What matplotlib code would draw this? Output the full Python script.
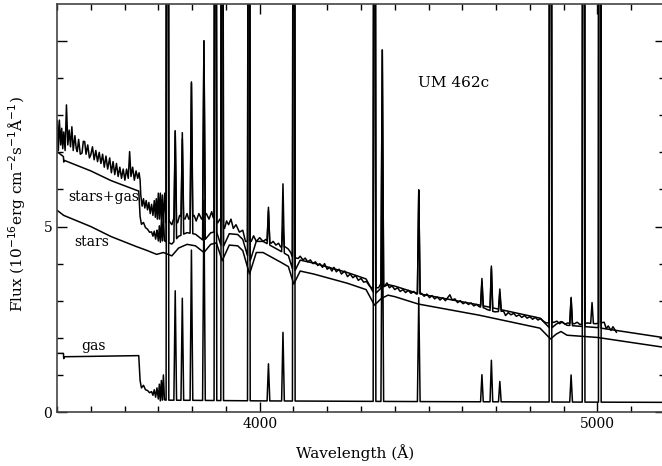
"""
UM 462c spectrum: observed + stars / gas / stars+gas models
"""
import numpy as np
import matplotlib.pyplot as plt

# %% data
# stellar model continuum (with Balmer absorption dips)
stars_wave = [3400, 3420, 3500, 3560, 3635, 3665, 3695, 3715, 3740, 3760, 3785, 3810, 3835, 3855,
              3872, 3889, 3910, 3935, 3950, 3970, 3990, 4010, 4060, 4085, 4101, 4120, 4160, 4260,
              4315, 4340, 4360, 4380, 4400, 4470, 4650, 4830, 4845, 4861, 4878, 4892, 4910, 5000, 5200]
stars_flux = [5.44, 5.30, 5.00, 4.73, 4.46, 4.36, 4.25, 4.30, 4.21, 4.42, 4.52, 4.48, 4.30, 4.52,
              4.56, 4.08, 4.50, 4.48, 4.35, 3.72, 4.30, 4.30, 4.05, 3.92, 3.45, 3.80, 3.72, 3.47,
              3.30, 2.88, 3.06, 3.15, 3.11, 2.91, 2.61, 2.26, 2.12, 1.97, 2.10, 2.17, 2.07, 2.01, 1.74]

# nebular (gas) continuum, Balmer jump at 3646
gas_wave = [3400, 3419, 3420, 3422, 3500, 3642, 3646, 3650, 3656, 3662, 3668, 3674, 3680, 3684,
            3688, 3692, 3696, 3700, 3703, 3706, 3709, 3712, 3715, 3718, 3722, 4000, 4500, 5200]
gas_flux = [1.58, 1.58, 1.44, 1.49, 1.50, 1.52, 0.85, 0.65, 0.72, 0.60, 0.58, 0.52, 0.55, 0.45,
            0.60, 0.40, 0.65, 0.35, 0.75, 0.30, 0.85, 0.32, 1.00, 0.33, 0.32, 0.30, 0.28, 0.26]

# gas emission lines: wavelength, height above the gas continuum
line_wave = [3727, 3750, 3771, 3798, 3835, 3869, 3889, 3968, 4026, 4069, 4101, 4340, 4363,
             4471, 4658, 4686, 4711, 4861, 4922, 4959, 5007]
line_amp = [40, 2.95, 2.75, 4.05, 5.4, 30, 30, 30, 1.0, 1.85, 30, 30, 6.4,
            2.8, 0.73, 1.12, 0.55, 50, 0.73, 50, 80]

# observed spectrum (continuum part)
obs_wave = [3398, 3401, 3404, 3407, 3411, 3414, 3417, 3420, 3424, 3428, 3432, 3436, 3440, 3444,
            3448, 3453, 3457, 3460, 3464, 3469, 3474, 3478, 3482, 3486, 3491, 3496, 3500, 3505,
            3510, 3515, 3520, 3525, 3530, 3535, 3540, 3545, 3550, 3556, 3561, 3566, 3571, 3576,
            3581, 3586, 3591, 3596, 3601, 3606, 3611, 3615, 3619, 3624, 3629, 3634, 3639, 3643,
            3646,
            3648, 3652, 3656, 3660, 3664, 3668, 3672, 3676, 3680, 3684,
            3688, 3691, 3694, 3697, 3700, 3703, 3706, 3709, 3712, 3715, 3719, 3723, 3732, 3740,
            3745, 3757, 3763, 3779, 3785, 3790, 3806, 3812, 3820, 3828, 3842, 3850, 3858, 3862,
            3876, 3882, 3896, 3902, 3908, 3915, 3922, 3930, 3940, 3950, 3958, 3975, 3982, 3990,
            4000, 4010, 4018, 4034, 4040, 4048, 4056, 4062, 4076, 4084, 4092, 4096, 4108, 4114,
            4120, 4128, 4135, 4142, 4150, 4158, 4165, 4172, 4178, 4186, 4192, 4200, 4207, 4214,
            4220, 4227, 4235, 4242, 4252, 4260, 4268, 4276, 4284, 4292, 4300, 4308, 4316, 4325,
            4331, 4352, 4358, 4370, 4377, 4384, 4392, 4400, 4408, 4416, 4424, 4432, 4440, 4448,
            4456, 4464, 4479, 4487, 4495, 4503, 4510, 4518, 4526, 4534, 4542, 4550, 4558, 4563,
            4570, 4578, 4586, 4594, 4602, 4610, 4618, 4626, 4634, 4642, 4650, 4666, 4674, 4696,
            4722, 4728, 4736, 4744, 4752, 4760, 4768, 4776, 4784, 4792, 4800, 4808, 4816, 4824,
            4832, 4840, 4848, 4872, 4880, 4888, 4896, 4904, 4912, 4932, 4940, 4948, 4970, 4995,
            5020, 5026, 5032, 5040, 5046, 5056]
obs_flux = [7.00, 7.85, 7.05, 7.87, 7.20, 7.65, 7.10, 7.55, 7.05, 8.28, 7.20, 7.60, 7.15, 7.69,
            7.05, 7.45, 7.10, 7.02, 7.35, 6.95, 6.98, 7.30, 7.29, 6.95, 7.20, 6.85, 6.93, 7.15,
            6.80, 7.05, 6.75, 7.00, 6.70, 6.95, 6.60, 6.90, 6.55, 6.85, 6.45, 6.75, 6.40, 6.70,
            6.35, 6.60, 6.30, 6.55, 6.25, 6.55, 6.30, 7.02, 6.35, 6.60, 6.25, 6.50, 6.30, 6.45,
            6.25,
            5.85, 5.55, 5.75, 5.50, 5.70, 5.45, 5.65, 5.35, 5.60, 5.30,
            5.70, 5.25, 5.75, 5.20, 5.90, 5.20, 5.90, 5.15, 5.85, 5.10, 5.90, 5.10, 5.15, 5.05,
            5.20, 5.10, 5.30, 5.20, 5.35, 5.20, 5.30, 5.15, 5.35, 5.20, 5.35, 5.20, 5.40, 5.25,
            5.10, 5.20, 4.95, 5.15, 5.05, 5.20, 4.95, 5.05, 4.85, 4.90, 4.60, 4.60, 4.75, 4.60,
            4.70, 4.60, 4.65, 4.55, 4.60, 4.50, 4.55, 4.45, 4.45, 4.40, 4.30, 4.20, 4.15, 4.14,
            4.20, 4.10, 4.15, 4.05, 4.10, 4.00, 4.05, 3.95, 4.00, 3.90, 4.00, 3.85, 3.90, 3.80,
            3.90, 3.78, 3.85, 3.72, 3.80, 3.65, 3.72, 3.62, 3.68, 3.55, 3.60, 3.50, 3.52, 3.40,
            3.35, 3.35, 3.45, 3.40, 3.48, 3.35, 3.40, 3.30, 3.35, 3.25, 3.30, 3.22, 3.28, 3.20,
            3.25, 3.18, 3.20, 3.12, 3.18, 3.08, 3.14, 3.05, 3.10, 3.02, 3.08, 3.00, 3.10, 3.16,
            3.02, 3.05, 2.95, 3.00, 2.92, 2.96, 2.90, 2.94, 2.86, 2.90, 2.84, 2.80, 2.76, 2.70,
            2.72, 2.60, 2.68, 2.62, 2.66, 2.58, 2.62, 2.55, 2.60, 2.53, 2.57, 2.50, 2.55, 2.48,
            2.52, 2.45, 2.40, 2.42, 2.45, 2.38, 2.43, 2.37, 2.40, 2.38, 2.42, 2.36, 2.40, 2.38,
            2.42, 2.25, 2.32, 2.20, 2.30, 2.15]

# observed emission lines: wavelength, peak flux
obs_line_wave = [3727, 3750, 3771, 3798, 3835, 3869, 3889, 3968, 4026, 4069, 4101, 4340, 4363,
                 4471, 4658, 4686, 4711, 4861, 4922, 4959, 4984, 5007]
obs_line_peak = [40, 7.57, 7.36, 8.9, 10.0, 30, 30, 30, 5.43, 5.0, 30, 30, 9.76,
                 5.94, 3.51, 3.87, 3.22, 50, 3.09, 50, 2.95, 80]


def add_lines(wave, flux, lwave, height, half=4.0, absolute=False):
    """insert narrow triangular emission lines into a polyline"""
    wave = np.asarray(wave, float)
    flux = np.asarray(flux, float)
    keep = np.ones(len(wave), bool)
    for c in lwave:
        keep &= np.abs(wave - c) > half
    xs = list(wave[keep])
    ys = list(flux[keep])
    for c, h in zip(lwave, height):
        for dx in (-half, 0.0, half):
            base = np.interp(c + dx, wave, flux)
            xs.append(c + dx)
            if dx == 0.0:
                ys.append(h if absolute else base + h)
            else:
                ys.append(base)
    order = np.argsort(xs, kind='stable')
    return np.array(xs)[order], np.array(ys)[order]


gas_x, gas_y = add_lines(gas_wave, gas_flux, line_wave, line_amp)
# stars+gas = sum of the two models on the union grid
mod_x = np.union1d(gas_x, stars_wave)
mod_y = np.interp(mod_x, stars_wave, stars_flux) + np.interp(mod_x, gas_x, gas_y)
obs_x, obs_y = add_lines(obs_wave, obs_flux, obs_line_wave, obs_line_peak, absolute=True)

# %% plot
plt.rcParams['font.family'] = ['DejaVu Serif']
fig = plt.figure(figsize=(6.62, 4.66), dpi=100)
ax = fig.add_axes([57 / 662, 54 / 466, 608 / 662, 408 / 466])

lw = 1.1
ax.plot(obs_x, obs_y, color='black', lw=lw)
ax.plot(mod_x, mod_y, color='black', lw=lw)
ax.plot(stars_wave, stars_flux, color='black', lw=lw)
ax.plot(gas_x, gas_y, color='black', lw=lw)

ax.set_xlim(3400, 5200)
ax.set_ylim(0, 11)
ax.set_xticks([4000, 5000])
ax.set_xticks(np.arange(3400, 5201, 100), minor=True)
ax.set_yticks([0, 5, 10])
ax.set_yticklabels(['0', '5', ''])
ax.set_yticks(np.arange(0, 11, 1), minor=True)
ax.tick_params(which='both', direction='in', top=True, right=True, labelsize=10, width=1)
ax.tick_params(which='major', length=7)
ax.tick_params(which='minor', length=4)
for s in ax.spines.values():
    s.set_linewidth(1.2)
    s.set_color('#444444')

ax.set_xlabel('Wavelength (Å)', fontsize=11)
ax.set_ylabel('Flux (10$^{-16}$erg cm$^{-2}$s$^{-1}$Å$^{-1}$)', fontsize=11)
ax.yaxis.set_label_coords(-0.048, 0.51)
ax.xaxis.set_label_coords(0.49, -0.078)

ax.text(4574, 8.87, 'UM 462c', fontsize=11, ha='center', va='center')
ax.text(3434, 5.8, 'stars+gas', fontsize=10, ha='left', va='center')
ax.text(3451, 4.58, 'stars', fontsize=10, ha='left', va='center')
ax.text(3472, 1.78, 'gas', fontsize=10, ha='left', va='center')

fig.savefig('out.png', dpi=100)
